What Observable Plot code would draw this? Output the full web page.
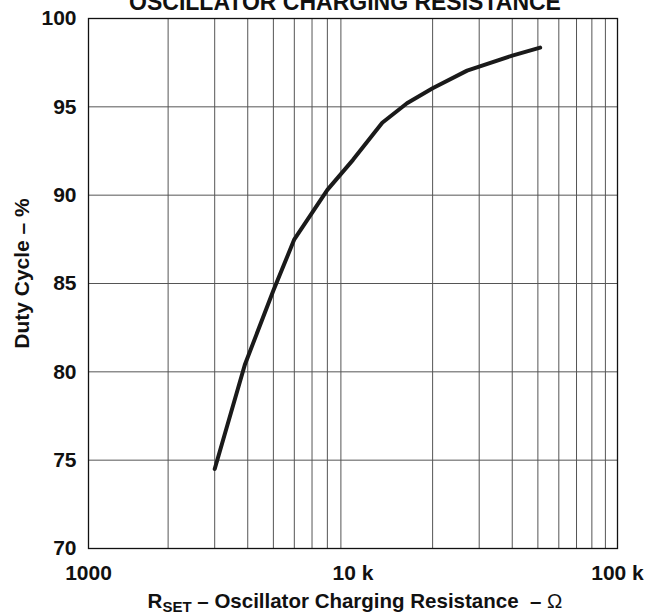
<!DOCTYPE html>
<html>
<head>
<meta charset="utf-8">
<script src="https://cdn.jsdelivr.net/npm/d3@7"></script>
<script src="https://cdn.jsdelivr.net/npm/@observablehq/plot@0.6"></script>
<style>
  html, body { margin: 0; padding: 0; background: #fff; }
  #chart svg { display: block; overflow: visible; }
</style>
</head>
<body>
<div id="chart"></div>
<script>
const resistance = [3000, 3900, 5000, 6000, 8000, 10000, 12900, 16000, 20000, 27000, 40000, 51000];
const dutyCycle  = [74.5, 80.4, 84.6, 87.5, 90.3, 92.0, 94.1, 95.2, 96.05, 97.05, 97.9, 98.35];
const xTicks = [1000, 10000, 100000];
const xTickLabels = ["1000", "10 k", "100 k"];
const xGrid = [2000, 3000, 4000, 5000, 6000, 7000, 8000, 9000, 20000, 30000, 40000, 50000, 60000, 70000, 80000, 90000];
const yTicks = [70, 75, 80, 85, 90, 95, 100];
const yGrid = [75, 80, 85, 90, 95];
const title = "OSCILLATOR CHARGING RESISTANCE";
const yTitle = "Duty Cycle – %";

const data = resistance.map((r, i) => ({r, d: dutyCycle[i]}));
const font = "'Liberation Sans', Arial, sans-serif";

const chart = Plot.plot({
  width: 655,
  height: 616,
  marginLeft: 88,
  marginRight: 38,
  marginTop: 18,
  marginBottom: 68,
  style: {fontFamily: font, background: "#fff", color: "#111"},
  x: {type: "log", domain: [1000, 100000]},
  y: {domain: [70, 100]},
  marks: [
    Plot.ruleX(xGrid, {stroke: "#555", strokeWidth: 1}),
    Plot.ruleY(yGrid, {stroke: "#555", strokeWidth: 1}),
    Plot.frame({stroke: "#111", strokeWidth: 1.3}),
    Plot.axisX({ticks: xTicks, tickFormat: d => xTickLabels[xTicks.indexOf(d)], tickSize: 0, tickPadding: 17, fontSize: 21, fontWeight: "bold", label: null}),
    Plot.axisY({ticks: yTicks, tickSize: 0, tickPadding: 12, fontSize: 21, fontWeight: "bold", label: null}),
    Plot.line(data, {x: "r", y: "d", stroke: "#1a1a1a", strokeWidth: 4, strokeLinecap: "round", strokeLinejoin: "round"}),
    Plot.text([title], {frameAnchor: "top", dy: -9, dx: -8, lineAnchor: "bottom", fontSize: 23, fontWeight: "bold"}),
    Plot.text([yTitle], {frameAnchor: "left", textAnchor: "middle", rotate: -90, dx: -66, dy: -10, fontSize: 21, fontWeight: "bold"})
  ]
});

document.getElementById("chart").appendChild(chart);

// x-axis title with subscript
const svg = d3.select(chart);
const xt = svg.append("text")
  .attr("x", 355)
  .attr("y", 608)
  .attr("text-anchor", "middle")
  .attr("font-family", font)
  .attr("font-size", 20.5)
  .attr("font-weight", "bold")
  .attr("fill", "#111");
xt.append("tspan").text("R");
xt.append("tspan").attr("font-size", 15).attr("dy", 4).text("SET");
xt.append("tspan").attr("dy", -4).text(" – Oscillator Charging Resistance  – ");
xt.append("tspan").attr("font-weight", "normal").text("Ω");
</script>
</body>
</html>
